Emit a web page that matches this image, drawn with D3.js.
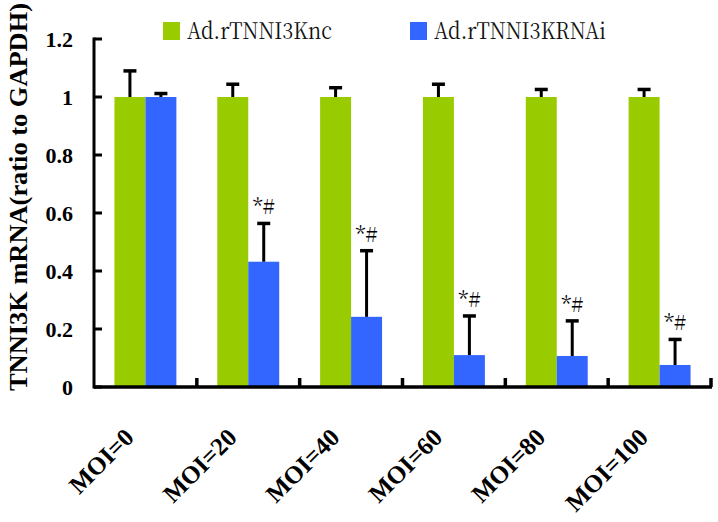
<!DOCTYPE html>
<html>
<head>
<meta charset="utf-8">
<script src="https://cdn.jsdelivr.net/npm/d3@7/dist/d3.min.js"></script>
<style>
html,body{margin:0;padding:0;background:#fff;}
svg{display:block;}
</style>
</head>
<body>
<script>
const categories = ["MOI=0","MOI=20","MOI=40","MOI=60","MOI=80","MOI=100"];
const seriesNames = ["Ad.rTNNI3Knc","Ad.rTNNI3KRNAi"];
const ncValues = [1,1,1,1,1,1];
const ncErrors = [0.09,0.044,0.032,0.044,0.026,0.026];
const rnaiValues = [1,0.432,0.242,0.110,0.107,0.076];
const rnaiErrors = [0.012,0.132,0.228,0.135,0.121,0.088];
const annotations = ["","*#","*#","*#","*#","*#"];
const yTicks = [0,0.2,0.4,0.6,0.8,1,1.2];
const colors = ["#99CC00","#3366FF"];

const SERIF = '"Liberation Serif", "Times New Roman", serif';
const THIN = '"Noto Serif CJK SC", "Liberation Serif", serif';

const W = 718, H = 522;
const svg = d3.select("body").append("svg").attr("width", W).attr("height", H);

const x0 = d3.scaleBand().domain(categories).range([94, 711]).padding(0);
const x1 = d3.scaleBand().domain(seriesNames).range([0, x0.bandwidth()]).paddingInner(0).paddingOuter(0.66);
const y = d3.scaleLinear().domain([0, 1.2]).range([387, 39]);

const data = categories.map((c, i) => ({
  cat: c,
  vals: [
    {s: seriesNames[0], v: ncValues[i], e: ncErrors[i], k: 0},
    {s: seriesNames[1], v: rnaiValues[i], e: rnaiErrors[i], k: 1}
  ],
  ann: annotations[i]
}));

const g = svg.append("g");
const groups = g.selectAll("g.cat").data(data).enter().append("g")
  .attr("transform", d => `translate(${x0(d.cat)},0)`);

groups.selectAll("rect").data(d => d.vals).enter().append("rect")
  .attr("x", d => x1(d.s))
  .attr("width", x1.bandwidth())
  .attr("y", d => y(d.v))
  .attr("height", d => y(0) - y(d.v))
  .attr("fill", d => colors[d.k]);

// error bars (upper only)
const eb = groups.selectAll("g.err").data(d => d.vals).enter().append("g");
eb.append("line")
  .attr("x1", d => x1(d.s) + x1.bandwidth()/2)
  .attr("x2", d => x1(d.s) + x1.bandwidth()/2)
  .attr("y1", d => y(d.v))
  .attr("y2", d => y(d.v + d.e))
  .attr("stroke", "#000").attr("stroke-width", 3);
eb.append("line")
  .attr("x1", d => x1(d.s) + x1.bandwidth()/2 - 6.5)
  .attr("x2", d => x1(d.s) + x1.bandwidth()/2 + 6.5)
  .attr("y1", d => y(d.v + d.e))
  .attr("y2", d => y(d.v + d.e))
  .attr("stroke", "#000").attr("stroke-width", 3.5);

// annotations
groups.append("text")
  .attr("x", d => x1(seriesNames[1]) + x1.bandwidth()/2)
  .attr("y", d => y(d.vals[1].v + d.vals[1].e) - 9)
  .attr("text-anchor", "middle")
  .style("font-family", THIN).style("font-size", "21px")
  .attr("fill", "#000")
  .text(d => d.ann);

// y axis
const yAxis = g.append("g");
yAxis.append("line").attr("x1", 94).attr("x2", 94).attr("y1", y(1.2) - 1.5).attr("y2", y(0) + 1.5)
  .attr("stroke", "#000").attr("stroke-width", 3);
yAxis.selectAll("line.tk").data(yTicks).enter().append("line")
  .attr("x1", 94).attr("x2", 102).attr("y1", d => y(d)).attr("y2", d => y(d))
  .attr("stroke", "#000").attr("stroke-width", 3);
yAxis.selectAll("text").data(yTicks).enter().append("text")
  .attr("x", 73).attr("y", d => y(d)).attr("dy", "0.36em")
  .attr("text-anchor", "end")
  .style("font-family", SERIF).style("font-weight", "bold").style("font-size", "22px")
  .text(d => d3.format("")(d));

// x axis
const xAxis = g.append("g");
xAxis.append("line").attr("x1", 94).attr("x2", 712).attr("y1", y(0)).attr("y2", y(0))
  .attr("stroke", "#000").attr("stroke-width", 3.5);
const bounds = categories.map(c => x0(c) + x0.bandwidth());
xAxis.selectAll("line.tk").data(bounds).enter().append("line")
  .attr("x1", d => d).attr("x2", d => d).attr("y1", y(0)).attr("y2", y(0) - 9)
  .attr("stroke", "#000").attr("stroke-width", 3.5);
xAxis.selectAll("text").data(categories).enter().append("text")
  .attr("transform", d => `translate(${x0(d) + x0.bandwidth()/2 - 10},${439}) rotate(-45)`)
  .attr("text-anchor", "end")
  .style("font-family", SERIF).style("font-weight", "bold").style("font-size", "25px")
  .text(d => d);

// y title
svg.append("text")
  .attr("transform", `translate(27,197) rotate(-90)`)
  .attr("text-anchor", "middle")
  .style("font-family", SERIF).style("font-weight", "bold").style("font-size", "26px")
  .attr("textLength", 388).attr("lengthAdjust", "spacingAndGlyphs")
  .text("TNNI3K mRNA(ratio to GAPDH)");

// legend
const legendX = [163, 410];
const legendLen = [145, 172];
const leg = svg.append("g");
seriesNames.forEach((s, i) => {
  leg.append("rect").attr("x", legendX[i]).attr("y", 22).attr("width", 17).attr("height", 18).attr("fill", colors[i]);
  leg.append("text").attr("x", legendX[i] + 24).attr("y", 39)
    .style("font-family", THIN).style("font-size", "23px")
    .attr("textLength", legendLen[i]).attr("lengthAdjust", "spacingAndGlyphs")
    .attr("fill", "#111")
    .text(s);
});
</script>
</body>
</html>
